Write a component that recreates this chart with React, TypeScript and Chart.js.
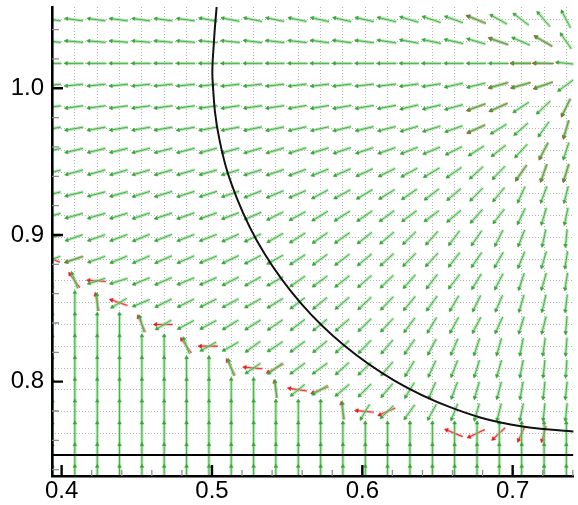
import React, { useEffect, useRef } from "react";
import { Chart, registerables } from "chart.js";

Chart.register(...registerables);

// ---- axes ----
const X_MIN = 0.3936;
const X_MAX = 0.7404;
const Y_MIN = 0.7357;
const Y_MAX = 1.0554;
const X_LABEL_TICKS = [0.4, 0.5, 0.6, 0.7];
const X_MINOR_TICKS = [0.42, 0.44, 0.46, 0.48, 0.52, 0.54, 0.56, 0.58, 0.62, 0.64, 0.66, 0.68, 0.72, 0.74];
const Y_LABEL_TICKS = [0.8, 0.9, 1.0];
const Y_MINOR_TICKS = [0.74, 0.76, 0.78, 0.82, 0.84, 0.86, 0.88, 0.92, 0.94, 0.96, 0.98, 1.02, 1.04];

// ---- mesh (columns -1..22, rows j = 0..21 bottom to top) ----
const COLS_X = [
  0.3939, 0.4088, 0.4237, 0.4385, 0.4534, 0.4682, 0.4831, 0.498, 0.5128, 0.5277, 0.5425, 0.5574,
  0.5723, 0.5871, 0.602, 0.6168, 0.6317, 0.6466, 0.6614, 0.6763, 0.6911, 0.706, 0.7209, 0.7357,
];
const ROWS_Y = [
  0.7352, 0.75, 0.7648, 0.7797, 0.7945, 0.8093, 0.8242, 0.839, 0.8538, 0.8687, 0.8835, 0.8983,
  0.9132, 0.928, 0.9428, 0.9577, 0.9725, 0.9873, 1.0022, 1.017, 1.0318, 1.0467,
];
const MESH_DX = 0.01486;
const MESH_DY = 0.01483;

// vector direction (degrees, counter-clockwise from +x), rows listed top (j=21) to bottom (j=0)
const GREEN_ANGLE: number[][] = [
  [172, 172, 172, 172, 172, 172, 172, 169, 169, 168, 168, 168, 167, 167, 167, 166, 163, 161, 160, 157, 150, 142, 130, 117],
  [175, 175, 175, 175, 175, 175, 175, 174, 174, 173, 173, 173, 172, 172, 172, 171, 169, 168, 167, 163, 161, 156, 150, 124],
  [180, 180, 180, 180, 180, 180, 180, 180, 180, 180, 180, 180, 180, 180, 180, 180, 180, 180, 180, 180, 180, 180, 179, 174],
  [186, 186, 186, 186, 186, 186, 186, 187, 187, 187, 187, 187, 187, 187, 187, 187, 188, 189, 193, 194, 196, 196, 199, 217],
  [188, 188, 188, 188, 188, 188, 188, 188, 189, 189, 189, 190, 190, 190, 190, 191, 194, 194, 196, 200, 204, 214, 224, 245],
  [190, 190, 190, 190, 190, 190, 190, 191, 191, 192, 192, 193, 193, 194, 194, 195, 197, 198, 200, 203, 212, 222, 235, 254],
  [193, 194, 194, 194, 195, 195, 195, 196, 196, 197, 197, 198, 198, 199, 199, 200, 202, 203, 207, 213, 219, 228, 243, 252],
  [195, 196, 196, 197, 197, 197, 197, 196, 197, 198, 199, 201, 202, 204, 205, 207, 209, 211, 215, 223, 227, 235, 251, 253],
  [194, 194, 195, 196, 198, 198, 198, 198, 199, 202, 203, 204, 209, 209, 211, 212, 215, 218, 221, 226, 231, 246, 250, 256],
  [196, 196, 197, 198, 199, 199, 200, 200, 201, 204, 207, 209, 212, 213, 215, 217, 217, 217, 221, 229, 233, 245, 254, 258],
  [198, 200, 200, 201, 203, 202, 202, 202, 205, 206, 210, 213, 216, 216, 219, 221, 225, 229, 234, 236, 244, 249, 258, 264],
  [200, 199, 200, 203, 204, 204, 204, 203, 206, 208, 210, 214, 217, 218, 220, 223, 226, 228, 233, 236, 241, 248, 254, 261],
  [95, 110, 198, 198, 203, 204, 203, 204, 208, 210, 210, 216, 217, 219, 222, 225, 229, 233, 233, 239, 243, 252, 254, 261],
  [90, 90, 92, 212, 203, 207, 207, 207, 209, 210, 212, 218, 220, 221, 224, 227, 231, 235, 240, 244, 247, 254, 257, 263],
  [90, 90, 90, 90, 105, 212, 209, 209, 212, 213, 215, 218, 220, 222, 225, 228, 234, 240, 242, 243, 246, 253, 256, 265],
  [90, 90, 90, 90, 90, 90, 110, 210, 210, 217, 214, 217, 220, 223, 227, 230, 236, 243, 247, 252, 254, 259, 262, 265],
  [90, 90, 90, 90, 90, 90, 90, 90, 108, 215, 218, 217, 217, 223, 225, 230, 240, 246, 249, 253, 254, 259, 264, 266],
  [90, 90, 90, 90, 90, 90, 90, 90, 90, 90, 95, 220, 212, 221, 226, 230, 239, 248, 250, 254, 256, 260, 264, 264],
  [90, 90, 90, 90, 90, 90, 90, 90, 90, 90, 90, 90, 90, 93, 240, 225, 235, 242, 249, 254, 256, 258, 264, 264],
  [90, 90, 90, 90, 90, 90, 90, 90, 90, 90, 90, 90, 90, 90, 90, 90, 90, 90, 90, 90, 90, 90, 90, 90],
  [90, 90, 90, 90, 90, 90, 90, 90, 90, 90, 90, 90, 90, 90, 90, 90, 90, 90, 90, 90, 90, 90, 90, 90],
  [90, 90, 90, 90, 90, 90, 90, 90, 90, 90, 90, 90, 90, 90, 90, 90, 90, 90, 90, 90, 90, 90, 90, 90],
];

// vector magnitude (hundredths of a mesh spacing), rows top (j=21) to bottom (j=0)
const GREEN_MAG: number[][] = [
  [75, 75, 75, 75, 75, 75, 75, 76, 76, 76, 76, 77, 77, 77, 78, 80, 80, 80, 80, 80, 81, 82, 83, 84],
  [76, 76, 76, 76, 76, 76, 76, 76, 77, 77, 77, 77, 78, 78, 78, 79, 79, 79, 80, 80, 80, 81, 81, 81],
  [77, 77, 77, 77, 77, 77, 77, 77, 77, 78, 78, 78, 78, 78, 78, 79, 79, 79, 79, 79, 80, 80, 80, 80],
  [76, 76, 76, 76, 76, 76, 76, 76, 76, 76, 76, 76, 76, 77, 77, 78, 78, 78, 78, 79, 79, 79, 80, 80],
  [76, 76, 76, 76, 76, 76, 76, 76, 76, 76, 76, 76, 76, 76, 76, 77, 77, 77, 77, 78, 78, 78, 78, 78],
  [76, 76, 76, 76, 76, 76, 76, 76, 76, 76, 76, 76, 76, 76, 76, 76, 76, 76, 77, 77, 77, 77, 77, 77],
  [76, 76, 76, 76, 76, 76, 76, 76, 76, 76, 76, 76, 76, 76, 76, 76, 76, 76, 76, 76, 76, 76, 76, 76],
  [76, 76, 76, 76, 76, 76, 76, 76, 76, 76, 76, 76, 76, 76, 76, 76, 76, 76, 76, 76, 76, 76, 76, 76],
  [76, 76, 76, 76, 76, 76, 76, 76, 76, 76, 76, 76, 76, 76, 76, 76, 76, 76, 76, 76, 76, 75, 75, 74],
  [76, 76, 76, 76, 76, 76, 76, 76, 76, 76, 76, 76, 76, 76, 76, 76, 76, 76, 76, 76, 76, 75, 75, 74],
  [76, 76, 76, 76, 76, 76, 76, 76, 76, 76, 76, 76, 76, 76, 76, 76, 76, 76, 76, 76, 76, 75, 75, 75],
  [76, 76, 76, 76, 76, 76, 76, 76, 76, 76, 76, 76, 76, 76, 76, 76, 76, 76, 76, 76, 76, 75, 75, 75],
  [74, 74, 76, 76, 76, 76, 76, 76, 76, 76, 76, 76, 76, 76, 76, 76, 76, 76, 76, 76, 76, 75, 75, 75],
  [96, 96, 74, 76, 76, 76, 76, 76, 76, 76, 76, 76, 76, 76, 76, 76, 76, 76, 76, 76, 76, 76, 76, 76],
  [96, 96, 96, 96, 74, 76, 76, 76, 76, 76, 76, 76, 76, 76, 76, 76, 76, 76, 76, 76, 76, 76, 76, 76],
  [96, 96, 96, 96, 96, 96, 74, 76, 76, 76, 76, 76, 76, 76, 76, 76, 76, 76, 76, 76, 76, 76, 76, 76],
  [96, 96, 96, 96, 96, 96, 96, 96, 74, 76, 76, 76, 76, 76, 76, 76, 76, 76, 76, 76, 76, 76, 76, 76],
  [96, 96, 96, 96, 96, 96, 96, 96, 96, 96, 74, 76, 76, 76, 76, 76, 76, 76, 76, 76, 76, 76, 76, 76],
  [96, 96, 96, 96, 96, 96, 96, 96, 96, 96, 96, 96, 96, 74, 76, 76, 76, 76, 76, 76, 76, 76, 76, 76],
  [96, 96, 96, 96, 96, 96, 96, 96, 96, 96, 96, 96, 96, 96, 96, 96, 96, 96, 96, 96, 96, 96, 96, 96],
  [96, 96, 96, 96, 96, 96, 96, 96, 96, 96, 96, 96, 96, 96, 96, 96, 96, 96, 96, 96, 96, 96, 96, 96],
  [96, 96, 96, 96, 96, 96, 96, 96, 96, 96, 96, 96, 96, 96, 96, 96, 96, 96, 96, 96, 96, 96, 96, 96],
];

// red vectors that show apart from the green ones: [column, row j, angle, magnitude]
const RED_VECTORS: number[][] = [
  [-1, 10, 157, 72], [0, 10, 199, 80], [0, 9, 125, 76], [1, 9, 176, 76], [1, 8, 101, 76], [2, 8, 160, 76],
  [3, 7, 114, 76], [4, 7, 180, 76], [5, 6, 124, 76], [6, 6, 180, 78], [7, 5, 117, 76], [8, 5, 175, 78],
  [9, 5, 209, 78], [9, 4, 99, 74], [10, 4, 171, 78], [11, 4, 202, 76], [12, 3, 100, 74], [13, 3, 174, 76],
  [14, 3, 204, 76], [17, 2, 157, 78], [18, 2, 206, 78], [19, 2, 224, 74], [20, 2, 246, 70], [21, 2, 255, 70],
  [18, 21, 158, 86], [19, 20, 160, 86], [21, 20, 149, 86], [20, 19, 180, 85], [21, 19, 179, 85],
  [19, 18, 196, 84], [20, 18, 196, 84], [21, 18, 200, 84], [18, 17, 201, 82], [19, 17, 205, 82],
  [22, 17, 244, 84], [18, 16, 206, 82], [22, 16, 254, 82], [21, 15, 243, 80], [20, 14, 236, 80],
  [21, 14, 251, 80], [22, 14, 253, 80],
];

// wall and circular boundary
const WALL_Y = 0.75;
const ARC_X = [0.5036, 0.5031, 0.5012, 0.5004, 0.5051, 0.5168, 0.5349, 0.5589, 0.588, 0.6216, 0.6588, 0.6986, 0.74, 0.745];
const ARC_Y = [1.06, 1.0554, 1.03, 1.0057, 0.9643, 0.9245, 0.8873, 0.8537, 0.8246, 0.8006, 0.7825, 0.7708, 0.7661, 0.7661];

type Pt = { x: number; y: number | null };
type Field = { segs: Pt[]; heads: Pt[]; rot: number[] };

function addVector(f: Field, x: number, y: number, angDeg: number, magPct: number) {
  const rad = (angDeg * Math.PI) / 180;
  const len = magPct / 100;
  const dx = (len * Math.cos(rad) * MESH_DX) / 2;
  const dy = (len * Math.sin(rad) * MESH_DY) / 2;
  f.segs.push({ x: x - dx, y: y - dy });
  f.segs.push({ x: x + dx, y: y + dy });
  f.segs.push({ x: x + dx, y: null });
  f.heads.push({ x: x + dx, y: y + dy });
  f.rot.push(90 - angDeg);
}

function buildGreen(): Field {
  const f: Field = { segs: [], heads: [], rot: [] };
  for (let r = 0; r < GREEN_ANGLE.length; r++) {
    const y = ROWS_Y[ROWS_Y.length - 1 - r];
    for (let c = 0; c < COLS_X.length; c++) {
      addVector(f, COLS_X[c], y, GREEN_ANGLE[r][c], GREEN_MAG[r][c]);
    }
  }
  return f;
}

function buildRed(): Field {
  const f: Field = { segs: [], heads: [], rot: [] };
  RED_VECTORS.forEach(([c, j, ang, mag]) => addVector(f, COLS_X[c + 1], ROWS_Y[j], ang, mag));
  return f;
}

const innerTicks = {
  id: "innerTicks",
  afterDraw(chart: any) {
    const { ctx, chartArea } = chart;
    const { left, bottom } = chartArea;
    const xs = chart.scales.x;
    const ys = chart.scales.y;
    ctx.save();
    ctx.strokeStyle = "#8c8c8c";
    ctx.lineWidth = 1.3;
    ctx.beginPath();
    X_MINOR_TICKS.forEach((v) => {
      const p = xs.getPixelForValue(v);
      ctx.moveTo(p, bottom);
      ctx.lineTo(p, bottom - 6);
    });
    Y_MINOR_TICKS.forEach((v) => {
      const p = ys.getPixelForValue(v);
      ctx.moveTo(left, p);
      ctx.lineTo(left + 7, p);
    });
    ctx.stroke();
    ctx.strokeStyle = "#000";
    ctx.lineWidth = 2.4;
    ctx.beginPath();
    X_LABEL_TICKS.forEach((v) => {
      const p = xs.getPixelForValue(v);
      ctx.moveTo(p, bottom);
      ctx.lineTo(p, bottom - 11);
    });
    Y_LABEL_TICKS.forEach((v) => {
      const p = ys.getPixelForValue(v);
      ctx.moveTo(left, p);
      ctx.lineTo(left + 11, p);
    });
    ctx.stroke();
    ctx.restore();
  },
};

const FONT = { family: '"Liberation Sans", Arial, Helvetica, sans-serif', size: 24 };

const noPad = (s: any) => {
  s.paddingTop = 0;
  s.paddingBottom = 0;
  s.paddingLeft = 0;
  s.paddingRight = 0;
};

export default function App() {
  const ref = useRef<HTMLCanvasElement>(null);
  useEffect(() => {
    const green = buildGreen();
    const red = buildRed();
    const common = { xAxisID: "x", yAxisID: "y", clip: 0 } as any;
    const chart = new Chart(ref.current as HTMLCanvasElement, {
      type: "scatter",
      data: {
        datasets: [
          {
            ...common,
            label: "wall",
            data: [
              { x: X_MIN, y: WALL_Y },
              { x: X_MAX, y: WALL_Y },
            ],
            showLine: true,
            borderColor: "#000",
            borderWidth: 2,
            pointRadius: 0,
            order: 0,
          },
          {
            ...common,
            label: "arc",
            data: ARC_X.map((x, i) => ({ x, y: ARC_Y[i] })),
            showLine: true,
            tension: 0.4,
            borderColor: "#111",
            borderWidth: 2,
            pointRadius: 0,
            order: 0,
          },
          {
            ...common,
            label: "greenHeads",
            data: green.heads,
            showLine: false,
            pointStyle: "triangle",
            pointRadius: 2.1,
            pointRotation: green.rot,
            pointBackgroundColor: "rgb(55,165,55)",
            pointBorderColor: "rgb(55,165,55)",
            pointBorderWidth: 0.6,
            order: 1,
          },
          {
            ...common,
            label: "greenCore",
            data: green.segs,
            showLine: true,
            spanGaps: false,
            borderColor: "rgb(70,180,70)",
            borderWidth: 1,
            pointRadius: 0,
            order: 2,
          },
          {
            ...common,
            label: "greenHalo",
            data: green.segs,
            showLine: true,
            spanGaps: false,
            borderColor: "rgba(140,215,140,0.6)",
            borderWidth: 3.2,
            pointRadius: 0,
            order: 3,
          },
          {
            ...common,
            label: "redHeads",
            data: red.heads,
            showLine: false,
            pointStyle: "triangle",
            pointRadius: 2.3,
            pointRotation: red.rot,
            pointBackgroundColor: "rgb(230,30,30)",
            pointBorderColor: "rgb(230,30,30)",
            pointBorderWidth: 0.6,
            order: 4,
          },
          {
            ...common,
            label: "redCore",
            data: red.segs,
            showLine: true,
            spanGaps: false,
            borderColor: "rgb(235,50,50)",
            borderWidth: 1.1,
            pointRadius: 0,
            order: 5,
          },
          {
            ...common,
            label: "redHalo",
            data: red.segs,
            showLine: true,
            spanGaps: false,
            borderColor: "rgba(245,130,130,0.45)",
            borderWidth: 3,
            pointRadius: 0,
            order: 6,
          },
        ] as any,
      },
      options: {
        animation: false,
        responsive: false,
        devicePixelRatio: 1,
        events: [],
        layout: { padding: { top: 7, left: 0, right: 0, bottom: 0 } },
        plugins: { legend: { display: false }, tooltip: { enabled: false } },
        scales: {
          x: {
            type: "linear",
            position: "bottom",
            min: X_MIN,
            max: X_MAX,
            afterBuildTicks: (s: any) => {
              s.ticks = X_LABEL_TICKS.map((v) => ({ value: v }));
            },
            afterFit: (s: any) => {
              s.height = 29;
              noPad(s);
            },
            grid: { display: true, drawTicks: false, color: "rgba(0,0,0,0)" },
            border: { display: true, color: "#000", width: 2.6, z: 1 },
            ticks: {
              padding: 1,
              color: "#000",
              font: FONT,
              maxRotation: 0,
              autoSkip: false,
              callback: (v: any) => Number(v).toFixed(1),
            },
          },
          y: {
            type: "linear",
            position: "left",
            min: Y_MIN,
            max: Y_MAX,
            afterBuildTicks: (s: any) => {
              s.ticks = Y_LABEL_TICKS.map((v) => ({ value: v }));
            },
            afterFit: (s: any) => {
              s.width = 52;
              noPad(s);
            },
            grid: { display: true, drawTicks: false, color: "rgba(0,0,0,0)" },
            border: { display: true, color: "#000", width: 2.6, z: 1 },
            ticks: {
              padding: 8,
              color: "#000",
              font: FONT,
              autoSkip: false,
              callback: (v: any) => Number(v).toFixed(1),
            },
          },
          xm: {
            type: "linear",
            position: "bottom",
            min: X_MIN,
            max: X_MAX,
            afterBuildTicks: (s: any) => {
              s.ticks = COLS_X.map((v) => ({ value: v }));
            },
            afterFit: (s: any) => {
              s.height = 0;
              noPad(s);
            },
            grid: { display: true, drawTicks: false, color: "rgba(150,150,150,0.7)", lineWidth: 1 },
            border: { display: false, dash: [1, 2] },
            ticks: { display: false },
          },
          ym: {
            type: "linear",
            position: "left",
            min: Y_MIN,
            max: Y_MAX,
            afterBuildTicks: (s: any) => {
              s.ticks = ROWS_Y.map((v) => ({ value: v }));
            },
            afterFit: (s: any) => {
              s.width = 0;
              noPad(s);
            },
            grid: { display: true, drawTicks: false, color: "rgba(150,150,150,0.7)", lineWidth: 1 },
            border: { display: false, dash: [1, 2] },
            ticks: { display: false },
          },
        } as any,
      },
      plugins: [innerTicks],
    });
    return () => chart.destroy();
  }, []);

  return (
    <div style={{ position: "absolute", left: 0, top: 0, width: 578, height: 505, background: "#fff" }}>
      <canvas ref={ref} width={578} height={505} style={{ display: "block" }} />
    </div>
  );
}
